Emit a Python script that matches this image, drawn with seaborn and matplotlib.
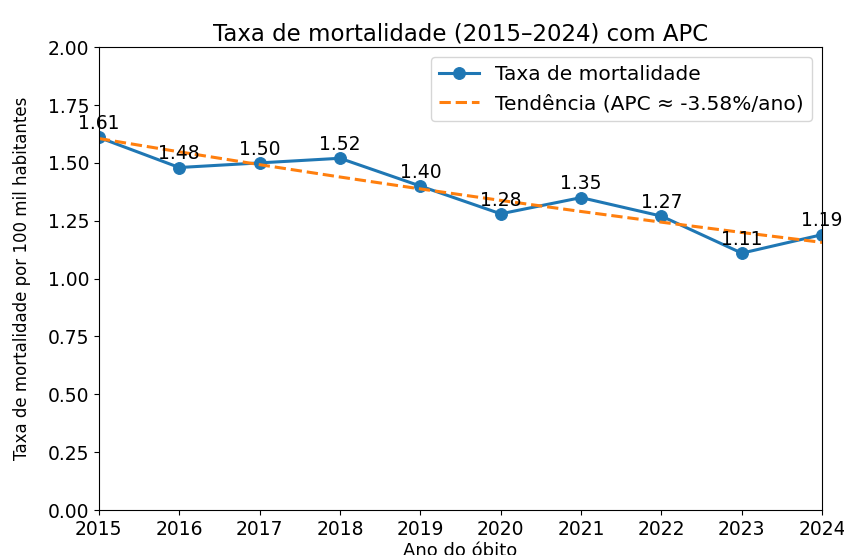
import matplotlib
matplotlib.use("Agg")
import matplotlib.pyplot as plt
import numpy as np
import pandas as pd
import seaborn as sns

anos = [2015, 2016, 2017, 2018, 2019, 2020, 2021, 2022, 2023, 2024]
taxas = [1.61, 1.48, 1.50, 1.52, 1.40, 1.28, 1.35, 1.27, 1.11, 1.19]
yticks = [0.00, 0.25, 0.50, 0.75, 1.00, 1.25, 1.50, 1.75, 2.00]

df = pd.DataFrame({"ano": anos, "taxa": taxas})

# log-linear fit for the trend / APC
coef = np.polyfit(df["ano"], np.log(df["taxa"]), 1)
apc = (np.exp(coef[0]) - 1) * 100
df["tendencia"] = np.exp(np.polyval(coef, df["ano"]))

fig = plt.figure(figsize=(8.45, 5.55), dpi=100)
ax = fig.add_axes([0.117, 0.081, 0.856, 0.834])

sns.lineplot(data=df, x="ano", y="taxa", ax=ax, marker="o", markersize=8.5,
             color="#1f77b4", linewidth=2.2, markeredgecolor="#1f77b4",
             label="Taxa de mortalidade")
sns.lineplot(data=df, x="ano", y="tendencia", ax=ax, color="#ff7f0e",
             linewidth=2.2, linestyle="--",
             label=f"Tendência (APC ≈ {apc:.2f}%/ano)")

for a, t in zip(anos, taxas):
    ax.annotate(f"{t:.2f}", (a, t), textcoords="offset points", xytext=(0, 3),
                ha="center", va="bottom", fontsize=13.5)

ax.set_xlim(2015, 2024)
ax.set_ylim(0, 2)
ax.set_xticks(anos)
ax.set_yticks(yticks)
ax.tick_params(labelsize=13.5)
ax.set_title("Taxa de mortalidade (2015–2024) com APC", fontsize=16.5, pad=5)
ax.set_xlabel("Ano do óbito", fontsize=13, labelpad=2)
ax.set_ylabel("Taxa de mortalidade por 100 mil habitantes", fontsize=12, labelpad=12)
ax.legend(loc="upper right", fontsize=14.5)

fig.savefig("out.png", dpi=100)
plt.close(fig)
